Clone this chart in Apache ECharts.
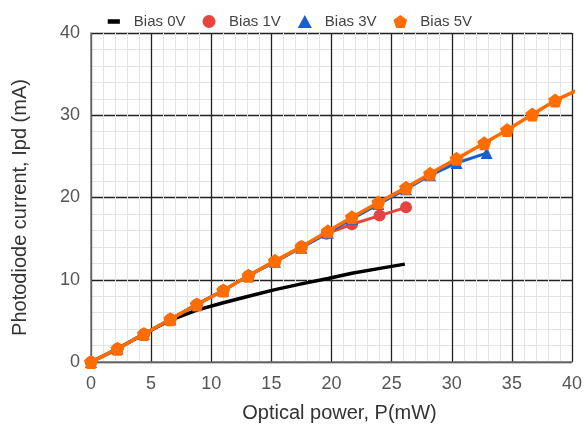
<!DOCTYPE html>
<html><head><meta charset="utf-8">
<script src="https://cdn.jsdelivr.net/npm/echarts@6/dist/echarts.min.js"></script>
<style>html,body{margin:0;padding:0;background:#fff}#c{width:586px;height:432px}</style>
</head><body><div id="c"></div>
<script>
const seriesNames = ['Bias 0V', 'Bias 1V', 'Bias 3V', 'Bias 5V'];

const power0V   = [0, 2.2, 4.4, 6.6, 8.8, 11.0, 13.1, 15.3, 17.5, 19.7, 21.7, 23.9, 26.1];
const current0V = [0, 1.6, 3.4, 5.1, 6.3, 7.2, 8.0, 8.8, 9.5, 10.15, 10.8, 11.35, 11.9];

const power1V   = [0, 2.2, 4.4, 6.6, 8.8, 11.0, 13.1, 15.3, 17.5, 19.6, 21.7, 24.0, 26.2];
const current1V = [0, 1.6, 3.4, 5.2, 7.0, 8.7, 10.5, 12.2, 14.0, 15.6, 16.75, 17.8, 18.8];

const power3V   = [0, 2.2, 4.4, 6.6, 8.8, 11.0, 13.1, 15.3, 17.5, 19.7, 21.7, 23.9, 26.2, 28.2, 30.4, 32.9];
const current3V = [0, 1.6, 3.4, 5.2, 7.0, 8.7, 10.5, 12.2, 13.9, 15.7, 17.4, 19.2, 21.0, 22.7, 24.2, 25.4];

const power5V   = [0, 2.2, 4.4, 6.6, 8.8, 11.0, 13.1, 15.3, 17.5, 19.7, 21.7, 23.9, 26.2, 28.2, 30.4, 32.7, 34.6, 36.7, 38.6, 40.8];
const current5V = [0, 1.6, 3.4, 5.2, 7.0, 8.7, 10.5, 12.3, 14.0, 15.9, 17.6, 19.4, 21.2, 22.9, 24.7, 26.6, 28.2, 30.1, 31.8, 33.3];

const xTicks = {min: 0, max: 40, interval: 5};
const yTicks = {min: 0, max: 40, interval: 10};

const zip = (xs, ys) => xs.map((x, i) => [x, ys[i]]);
const pentagon = 'path://M0,-1 L0.951,-0.309 L0.588,0.809 L-0.588,0.809 L-0.951,-0.309 Z';
const triangle = 'path://M0,-1 L0.95,0.75 L-0.95,0.75 Z';
const dashIcon = 'path://M0,0 L0.1,0 M2,5 L16,5 L16,10 L2,10 Z M18,15 L18.1,15';

const chart = echarts.init(document.getElementById('c'), null, {renderer: 'canvas'});
chart.setOption({
  animation: false,
  backgroundColor: '#fff',
  textStyle: {fontFamily: 'Liberation Sans, Arial, sans-serif'},
  legend: {
    left: 101, top: 9,
    itemWidth: 30, itemHeight: 13, itemGap: 17,
    textStyle: {fontSize: 15, color: '#444'},
    data: [
      {name: seriesNames[0], icon: dashIcon, itemStyle: {color: '#000'}},
      {name: seriesNames[1], icon: 'circle'},
      {name: seriesNames[2], icon: triangle},
      {name: seriesNames[3], icon: pentagon}
    ]
  },
  grid: {left: 91, right: 14, top: 33, bottom: 70, containLabel: false},
  xAxis: {
    type: 'value', min: xTicks.min, max: xTicks.max, interval: xTicks.interval,
    name: 'Optical power, P(mW)', nameLocation: 'middle', nameGap: 41,
    nameTextStyle: {fontSize: 20, color: '#333', padding: [0, 0, 0, 16]},
    axisLine: {show: true, lineStyle: {color: '#777', width: 1.5}},
    axisTick: {show: false},
    axisLabel: {fontSize: 18, color: '#555', margin: 13},
    splitLine: {show: true, lineStyle: {color: '#222', width: 1.3}},
    minorTick: {show: false, splitNumber: 5},
    minorSplitLine: {show: true, lineStyle: {color: '#e4e4e4', width: 1}}
  },
  yAxis: {
    type: 'value', min: yTicks.min, max: yTicks.max, interval: yTicks.interval,
    name: 'Photodiode current, Ipd (mA)', nameLocation: 'middle', nameGap: 61,
    nameTextStyle: {fontSize: 20, color: '#333', padding: [0, 20, 0, 0]},
    axisLine: {show: true, lineStyle: {color: '#777', width: 1.5}},
    axisTick: {show: false},
    axisLabel: {fontSize: 18, color: '#555', margin: 11},
    splitLine: {show: true, lineStyle: {color: '#222', width: 1.3}},
    minorTick: {show: false, splitNumber: 5},
    minorSplitLine: {show: true, lineStyle: {color: '#e4e4e4', width: 1}}
  },
  series: [
    {name: seriesNames[0], type: 'line', data: zip(power0V, current0V), showSymbol: false, symbol: 'none',
     lineStyle: {color: '#000', width: 3.5}, itemStyle: {color: '#000'}, z: 2},
    {name: seriesNames[1], type: 'line', data: zip(power1V, current1V), symbol: 'circle', symbolSize: 12,
     lineStyle: {color: '#e8433f', width: 3}, itemStyle: {color: '#e8433f'}, z: 3},
    {name: seriesNames[2], type: 'line', data: zip(power3V, current3V), symbol: triangle, symbolSize: 12,
     lineStyle: {color: '#1a5fd0', width: 3}, itemStyle: {color: '#1a5fd0'}, z: 4},
    {name: seriesNames[3], type: 'line', data: zip(power5V, current5V), symbol: pentagon, symbolSize: 14,
     lineStyle: {color: '#ff6d01', width: 3.5}, itemStyle: {color: '#ff6d01'}, clip: true, z: 5}
  ]
});
</script></body></html>
